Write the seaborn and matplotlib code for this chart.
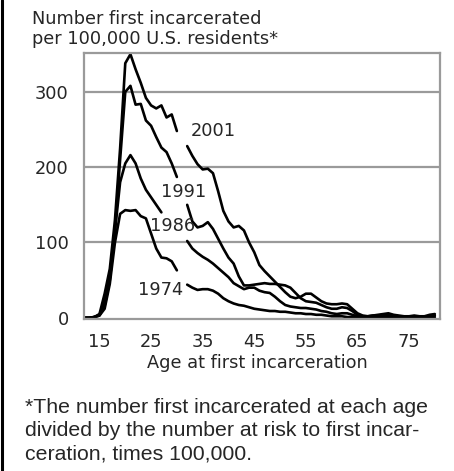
import numpy as np
import pandas as pd
import matplotlib
matplotlib.use("Agg")
import matplotlib.pyplot as plt
from matplotlib.lines import Line2D
import seaborn as sns

# ages 12..80, None = gap left for the year label
ages = list(range(12, 81))

rate_1974 = [0, 0, 1, 3, 12, 45, 100, 138, 143, 142, 143, 135, 132, 112, 92, 80, 79, 75, 63,
             None, 44, 40, 37, 38, 38, 36, 32, 26, 22, 19, 17, 16, 14, 12, 11, 10, 9, 9, 8,
             8, 7, 6, 6, 5, 5, 4, 4, 3, 2, 2, 2, 1, 1, 1, 1, 1, 1, 1, 1, 1, 1, 1, 1, 1, 1,
             1, 1, 1, 1]
rate_1986 = [0, 0, 1, 3, 16, 50, 115, 180, 205, 216, 205, 185, 170, 160, 150, 140,
             None, None, None, None, 102, 92, 86, 81, 77, 72, 66, 60, 54, 46, 42, 38, 40,
             40, 36, 34, 33, 28, 22, 17, 15, 14, 13, 13, 12, 11, 9, 8, 6, 5, 6, 6, 4, 2,
             1, 1, 2, 2, 3, 3, 2, 1, 1, 1, 1, 1, 2, 2]
rate_1991 = [0, 0, 1, 4, 22, 55, 115, 210, 300, 308, 283, 284, 262, 255, 240, 226, 220,
             205, 187, None, 150, 128, 120, 122, 127, 118, 105, 92, 80, 72, 55, 43, 43,
             44, 45, 46, 45, 45, 44, 43, 40, 33, 26, 22, 21, 20, 17, 14, 12, 12, 14, 13,
             9, 4, 2, 2, 3, 3, 4, 4, 3, 2, 2, 1, 2, 2, 1, 2, 3]
rate_2001 = [0, 0, 1, 5, 32, 65, 130, 225, 338, 350, 330, 312, 292, 282, 278, 282, 266,
             270, 248, None, 228, 215, 204, 197, 198, 192, 168, 142, 128, 120, 122, 116,
             100, 87, 70, 62, 55, 48, 41, 34, 28, 26, 28, 32, 32, 27, 22, 19, 18, 18, 19,
             18, 12, 6, 3, 2, 3, 4, 5, 6, 4, 3, 2, 2, 3, 2, 2, 4, 5]

years = ["1974", "1986", "1991", "2001"]
label_age = [26.9, 29.2, 31.3, 37.0]
label_val = [37, 122, 167, 248]

# long table, one unit per unbroken piece of line
rows = []
for yr, vals in zip(years, [rate_1974, rate_1986, rate_1991, rate_2001]):
    piece = 0
    for a, v in zip(ages, vals):
        if v is None:
            piece += 1
            continue
        rows.append({"age": a, "rate": v, "year": yr, "piece": f"{yr}-{piece}"})
df = pd.DataFrame(rows)

sns.set_style("white")
plt.rcParams["font.family"] = ["DejaVu Sans"]

fig = plt.figure(figsize=(4.54, 4.71), dpi=100)
ax = fig.add_axes([84 / 454, 1 - 319.3 / 471, 356 / 454, 266.6 / 471])

grey = "#9a9a9a"
for yv in [100, 200, 300]:
    ax.axhline(yv, color=grey, lw=1.6, zorder=0)

sns.lineplot(data=df, x="age", y="rate", units="piece", estimator=None,
             color="black", lw=1.9, ax=ax, legend=False)

for yr, xa, yv in zip(years, label_age, label_val):
    ax.text(xa, yv, yr, ha="center", va="center", fontsize=12.8)

ax.set_xlim(12, 81)
ax.set_ylim(-2, 352)
ax.set_xticks([15, 25, 35, 45, 55, 65, 75])
ax.set_yticks([0, 100, 200, 300])
ax.set_xlabel("")
ax.set_ylabel("")
ax.tick_params(axis="x", direction="out", length=3, width=1.4, color=grey,
               pad=7, labelsize=12.8)
ax.tick_params(axis="y", length=0, pad=11, labelsize=12.8)
for s in ax.spines.values():
    s.set_color(grey)
    s.set_linewidth(1.6)

fig.text(32 / 454, 1 - 10 / 471, "Number first incarcerated\nper 100,000 U.S. residents*",
         ha="left", va="top", fontsize=12.8, linespacing=1.12)
fig.text(257.5 / 454, 1 - 363 / 471, "Age at first incarceration",
         ha="center", va="center", fontsize=12.8)
fig.text(25 / 454, 1 - 398 / 471,
         "*The number first incarcerated at each age\n"
         "divided by the number at risk to first incar-\n"
         "ceration, times 100,000.",
         ha="left", va="top", fontsize=15.3, linespacing=1.3,
         family=["Liberation Sans", "DejaVu Sans"])

fig.add_artist(Line2D([1.5 / 454, 1.5 / 454], [0, 1], color="black", lw=2.2))

fig.savefig("out.png", dpi=100)
